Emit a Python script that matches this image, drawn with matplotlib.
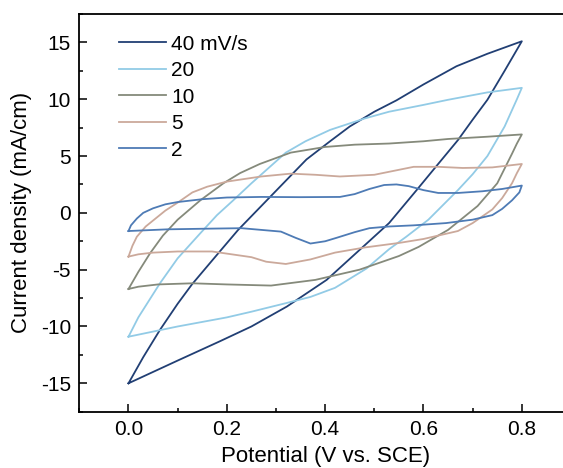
import matplotlib
matplotlib.use("Agg")
import matplotlib.pyplot as plt
from matplotlib.ticker import MultipleLocator, FormatStrFormatter

# Curvas CV: barrido anódico (0 -> 0.8 V) y luego catódico (0.8 -> 0 V)
labels = ["40 mV/s", "20", "10", "5", "2"]
colors = ["#213f74", "#92cbe6", "#858a7b", "#cba99b", "#4e7bb5"]

v40 = [0, 0.03, 0.064, 0.10, 0.129, 0.17, 0.223, 0.288, 0.362, 0.41, 0.45, 0.50, 0.545, 0.60, 0.667, 0.73, 0.8,
       0.765, 0.73, 0.70, 0.67, 0.626, 0.586, 0.53, 0.464, 0.403, 0.322, 0.25, 0.186, 0.10, 0.05, 0]
j40 = [-15.0, -12.7, -10.3, -8.0, -6.3, -4.2, -1.5, 1.4, 4.7, 6.3, 7.6, 8.9, 9.9, 11.3, 12.9, 14.0, 15.1,
       12.5, 9.95, 8.2, 6.4, 4.1, 2.0, -0.9, -3.5, -5.9, -8.25, -10.0, -11.3, -13.0, -14.0, -15.0]

v20 = [0, 0.02, 0.064, 0.10, 0.146, 0.18, 0.213, 0.25, 0.32, 0.36, 0.41, 0.48, 0.53, 0.60, 0.65, 0.73, 0.8,
       0.79, 0.765, 0.73, 0.70, 0.67, 0.61, 0.565, 0.53, 0.484, 0.42, 0.37, 0.32, 0.25, 0.20, 0.10, 0]
j20 = [-10.9, -9.2, -6.2, -4.0, -1.8, -0.2, 1.1, 2.6, 5.3, 6.3, 7.3, 8.3, 8.9, 9.5, 9.95, 10.6, 11.0,
       10.0, 7.6, 5.0, 3.4, 2.0, -0.6, -2.1, -3.2, -4.9, -6.6, -7.4, -7.95, -8.7, -9.2, -10.0, -10.9]

v10 = [0, 0.02, 0.044, 0.07, 0.10, 0.146, 0.193, 0.227, 0.267, 0.33, 0.40, 0.46, 0.53, 0.60, 0.65, 0.73, 0.8,
       0.79, 0.78, 0.75, 0.71, 0.65, 0.59, 0.55, 0.47, 0.38, 0.29, 0.20, 0.13, 0.06, 0.02, 0]
j10 = [-6.7, -5.2, -3.55, -2.0, -0.6, 1.1, 2.6, 3.5, 4.3, 5.3, 5.8, 6.0, 6.1, 6.3, 6.5, 6.7, 6.9,
       6.1, 5.2, 2.6, 0.6, -1.5, -3.0, -3.8, -5.0, -5.9, -6.4, -6.3, -6.2, -6.3, -6.5, -6.7]

v5 = [0, 0.008, 0.017, 0.035, 0.055, 0.075, 0.10, 0.13, 0.16, 0.20, 0.27, 0.33, 0.38, 0.43, 0.50, 0.54, 0.58, 0.63, 0.68, 0.74, 0.8,
      0.79, 0.78, 0.76, 0.74, 0.70, 0.67, 0.60, 0.55, 0.48, 0.42, 0.37, 0.32, 0.28, 0.25, 0.17, 0.10, 0.05, 0.02, 0]
j5 = [-3.85, -2.9, -2.1, -1.2, -0.5, 0.2, 0.9, 1.8, 2.3, 2.75, 3.2, 3.45, 3.35, 3.2, 3.35, 3.7, 4.05, 4.05, 3.95, 4.0, 4.3,
      3.5, 2.6, 1.3, 0.3, -0.9, -1.6, -2.3, -2.65, -3.05, -3.5, -4.1, -4.5, -4.3, -3.9, -3.4, -3.4, -3.5, -3.65, -3.85]

v2 = [0, 0.005, 0.017, 0.03, 0.05, 0.075, 0.10, 0.15, 0.20, 0.27, 0.35, 0.43, 0.46, 0.49, 0.52, 0.545, 0.57, 0.60, 0.63, 0.67, 0.72, 0.76, 0.8,
      0.795, 0.78, 0.76, 0.74, 0.70, 0.646, 0.58, 0.53, 0.49, 0.46, 0.423, 0.40, 0.37, 0.34, 0.31, 0.23, 0.15, 0.08, 0]
j2 = [-1.6, -1.1, -0.5, 0.0, 0.4, 0.75, 0.95, 1.2, 1.35, 1.4, 1.38, 1.4, 1.65, 2.1, 2.45, 2.5, 2.35, 2.0, 1.75, 1.75, 1.9, 2.1, 2.4,
      1.8, 1.1, 0.35, -0.2, -0.6, -0.9, -1.1, -1.2, -1.35, -1.7, -2.2, -2.5, -2.7, -2.2, -1.65, -1.35, -1.4, -1.45, -1.6]

xs = [v40, v20, v10, v5, v2]
ys = [j40, j20, j10, j5, j2]

plt.rcParams['font.family'] = ['Liberation Sans', 'DejaVu Sans']
plt.rcParams['axes.unicode_minus'] = False

fig = plt.figure(figsize=(5.63, 4.68), dpi=100)
# el eje derecho queda fuera de la imagen, como en la figura original
ax = fig.add_axes([0.1409, 0.1203, 0.8733, 0.8498])

for x, y, c, lab in zip(xs, ys, colors, labels):
    ax.plot(x, y, color=c, lw=1.3, label=lab)

ax.set_xlim(-0.1, 0.9)
ax.set_ylim(-17.5, 17.5)
ax.xaxis.set_major_locator(MultipleLocator(0.2))
ax.xaxis.set_minor_locator(MultipleLocator(0.1))
ax.yaxis.set_major_locator(MultipleLocator(5))
ax.yaxis.set_minor_locator(MultipleLocator(2.5))
ax.xaxis.set_major_formatter(FormatStrFormatter('%.1f'))
ax.set_xticks([0.0, 0.2, 0.4, 0.6, 0.8])

ax.tick_params(which='both', direction='in', width=1.1, labelsize=15, pad=6)
ax.tick_params(which='major', length=6)
ax.tick_params(which='minor', length=3)
for s in ax.spines.values():
    s.set_linewidth(1.3)

ax.set_xlabel('Potential (V vs. SCE)', fontsize=16, labelpad=5)
ax.set_ylabel('Current density (mA/cm)', fontsize=16, labelpad=6)

ax.legend(loc='upper left', bbox_to_anchor=(0.08, 0.948), frameon=False, fontsize=15,
          handlelength=2.25, handletextpad=0.27, labelspacing=0.36, borderpad=0, borderaxespad=0)

fig.savefig('out.png', dpi=100)
plt.close(fig)
